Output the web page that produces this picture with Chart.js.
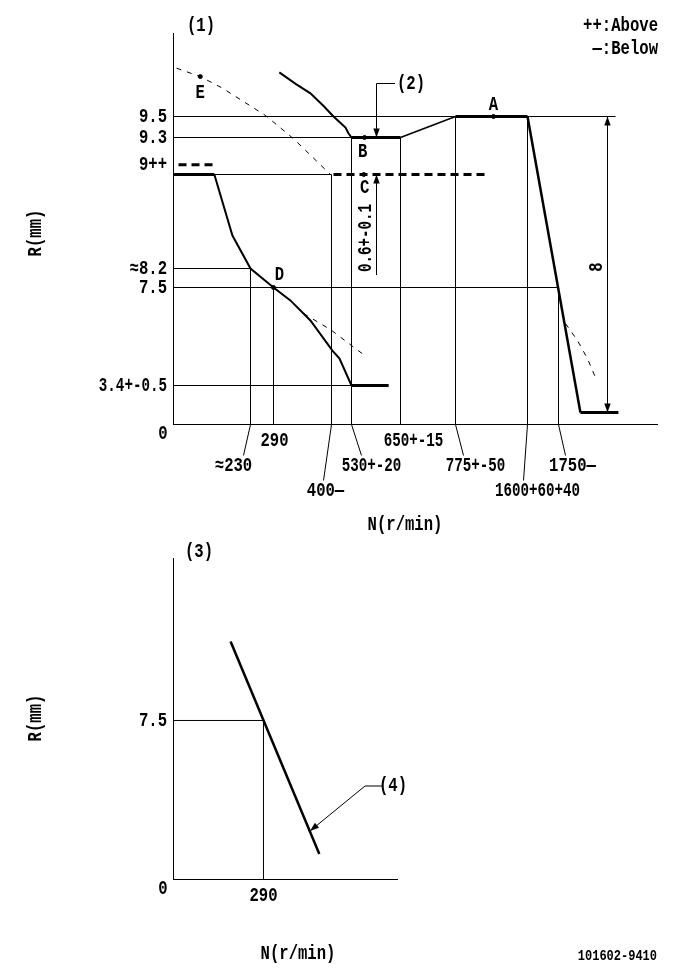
<!DOCTYPE html>
<html><head><meta charset="utf-8">
<style>html,body{margin:0;padding:0;background:#fff}canvas{display:block}</style>
<script src="https://cdn.jsdelivr.net/npm/chart.js@4"></script>
</head><body>
<canvas id="top" width="685" height="540"></canvas>
<canvas id="bottom" width="685" height="439"></canvas>
<script>
// --- Values: N in r/min, R in mm ---
const upperCurveN = [301, 332, 360, 385, 413, 491, 510, 530];
const upperCurveR = [9.92, 9.81, 9.72, 9.6, 9.5, 9.395, 9.34, 9.3];
const plateauBN = [530, 650];
const plateauBR = [9.3, 9.3];
const riseN = [650, 775];
const riseR = [9.3, 9.5];
const plateauAN = [775, 1600];
const plateauAR = [9.5, 9.5];
const dropN = [1600, 1856];
const dropR = [9.5, 1.05];
const tailN = [1856, 2040];
const tailR = [1.05, 1.05];
const startN = [0, 122];
const startR = [9, 9];
const lowerCurveN = [122, 176, 230, 290, 322, 360, 406, 452, 530];
const lowerCurveR = [9, 8.48, 8.2, 7.5, 6.96, 6.12, 4.86, 4.53, 3.4];
const idleN = [530, 621];
const idleR = [3.4, 3.4];
const aboveStartN = [15, 119];
const aboveStartR = [9.08, 9.08];
const lineCN = [413, 1119];
const lineCR = [9, 9];
const dashEN = [9, 80, 146, 269, 328, 398];
const dashER = [9.96, 9.88, 9.77, 9.51, 9.29, 9];
const dashLowN = [347, 398, 504, 562];
const dashLowR = [6.41, 5.74, 5.2, 4.66];
const dashHighN = [1784, 1842, 1890, 1929];
const dashHighR = [5.99, 5.28, 4.53, 3.73];
const markerN = [1210, 562, 560, 290, 80];
const markerR = [9.5, 9.3, 9, 7.5, 9.88];
const markerNames = ['A', 'B', 'C', 'D', 'E'];
const guideHR = [9.5, 9.3, 9, 8.2, 7.5, 3.4];
const guideHN = [2026, 530, 400, 230, 1750, 530];
const guideVN = [230, 290, 400, 530, 650, 775, 1600, 1750];
const guideVR = [8.2, 7.5, 9, 9.3, 9.3, 9.5, 9.5, 7.5];
const yTickValues = [3.4, 7.5, 8.2, 9.08, 9.3, 9.5];
const yTickLabels = ['3.4+-0.5', '7.5', '≈8.2', '9++', '9.3', '9.5'];
const xTickValues = [230, 290, 400, 530, 650, 775, 1600, 1750];
const xTickLabels = ['≈230', '290', '400—', '530+-20', '650+-15', '775+-50', '1600+60+40', '1750—'];
const auxN = [184, 470];
const auxR = [11.23, 1.2];
const auxGuideN = [290];
const auxGuideR = [7.5];

// --- The drawing's axes are not to scale: each axis is piecewise linear through its labelled values ---
const AXIS = {
  topX: { v: [0, 230, 290, 400, 530, 650, 775, 1600, 1750, 2229], d: [0, 77, 100, 158, 178, 227, 282, 354, 385, 484] },
  topY: { v: [0, 3.4, 7.5, 8.2, 9, 9.3, 9.5, 10.29], d: [0, 39, 137, 156, 250, 287, 308, 391] },
  botX: { v: [0, 722], d: [0, 224] },
  botY: { v: [0, 15.14], d: [0, 321] }
};
class PiecewiseScale extends Chart.LinearScale {
  static id = 'piecewise';
  static defaults = Chart.LinearScale.defaults;
  getPixelForValue(value) {
    const k = AXIS[this.options.knots], n = k.v.length;
    let i = 0;
    while (i < n - 2 && value > k.v[i + 1]) i++;
    const d = k.d[i] + (value - k.v[i]) * (k.d[i + 1] - k.d[i]) / (k.v[i + 1] - k.v[i]);
    return this.getPixelForDecimal(d / k.d[n - 1]) + 0.5;
  }
}
Chart.register(PiecewiseScale);

const FONT = '"Liberation Mono","DejaVu Sans Mono"';
const zip = (xs, ys) => xs.map((x, i) => ({ x, y: ys[i] }));
const line = (xs, ys, w, dash) => ({
  data: zip(xs, ys), showLine: true, borderColor: '#000', borderWidth: w,
  borderDash: dash || [], pointRadius: 0, tension: 0, fill: false
});
const THIN = 1, MID = 2, THICK = 3, DASH_THIN = [5, 6], DASH_THICK = [8, 5];

function text(ctx, s, x, y, opt) {
  opt = opt || {};
  ctx.save();
  ctx.fillStyle = '#000';
  ctx.font = 'bold ' + (opt.size || 20) + 'px ' + FONT;
  ctx.textAlign = opt.align || 'center';
  ctx.textBaseline = 'middle';
  ctx.translate(x, y);
  if (opt.rot) ctx.rotate(-Math.PI / 2);
  ctx.scale(opt.sx || (s.includes('+-') || s.length > 8 ? 0.71 : 0.78), 1);
  ctx.fillText(s, 0, 0);
  ctx.restore();
}
function stroke(ctx, pts, w) {
  ctx.save();
  ctx.strokeStyle = '#000';
  ctx.lineWidth = w || 1;
  ctx.beginPath();
  pts.forEach((p, i) => i ? ctx.lineTo(p[0], p[1]) : ctx.moveTo(p[0], p[1]));
  ctx.stroke();
  ctx.restore();
}
function arrow(ctx, x, y, ang) {
  const L = 9, W = 3.2, c = Math.cos(ang), s = Math.sin(ang);
  ctx.save();
  ctx.fillStyle = '#000';
  ctx.beginPath();
  ctx.moveTo(x, y);
  ctx.lineTo(x - L * c - W * s, y - L * s + W * c);
  ctx.lineTo(x - L * c + W * s, y - L * s - W * c);
  ctx.closePath();
  ctx.fill();
  ctx.restore();
}
function yTicks(ctx, scale) {
  scale.ticks.forEach(t => text(ctx, t.label, 167, scale.getPixelForValue(t.value), { align: 'right' }));
}

// Leader offsets for the x-axis labels: [end dx, end dy, text dx, text y below axis]
const xLabelPlace = [
  [-7, 31, -17, 41], [0, 0, 1, 16], [-8, 56, -6, 66], [10, 31, 20, 41],
  [0, 0, 13, 16], [8, 31, 20, 41], [-4, 56, 10, 66], [7, 31, 14, 41]
];

const topNotes = {
  id: 'topNotes',
  afterDraw(chart) {
    const c = chart.ctx, X = chart.scales.x, Y = chart.scales.y, base = Y.getPixelForValue(0);
    yTicks(c, Y);
    xTickValues.forEach((v, i) => {
      const px = X.getPixelForValue(v), p = xLabelPlace[i];
      if (p[1]) stroke(c, [[px, base], [px + p[0], base + p[1]]]);
      text(c, xTickLabels[i], px + p[2], base + p[3]);
    });
    text(c, '0', 163, 434);
    text(c, 'R(mm)', 36, 233, { rot: true });
    text(c, 'N(r/min)', 405, 525);
    text(c, '(1)', 201, 26);
    text(c, '++:Above', 658, 26, { align: 'right' });
    text(c, '—:Below', 658, 49, { align: 'right' });
    markerNames.forEach((m, i) => {
      const off = [[0, -12], [-2, 14], [1, 13], [6, -13], [0, 16]][i];
      text(c, m, X.getPixelForValue(markerN[i]) + off[0], Y.getPixelForValue(markerR[i]) + off[1]);
    });
    // (2) clearance dimension between curves B and C
    const ax = 376.5, y93 = Y.getPixelForValue(9.3), y90 = Y.getPixelForValue(9);
    stroke(c, [[395, 83.5], [ax, 83.5], [ax, y93]]);
    arrow(c, ax, y93, Math.PI / 2);
    stroke(c, [[ax, y90], [ax, 275]]);
    arrow(c, ax, y90, -Math.PI / 2);
    text(c, '(2)', 411, 84);
    text(c, '0.6+-0.1', 366, 238, { rot: true });
    // overall travel dimension
    const dx = 607.5, yA = Y.getPixelForValue(9.5), yT = Y.getPixelForValue(1.05);
    stroke(c, [[dx, yA], [dx, yT]]);
    arrow(c, dx, yA, -Math.PI / 2);
    arrow(c, dx, yT, Math.PI / 2);
    text(c, '8', 597, 267, { rot: true });
  }
};

const bottomNotes = {
  id: 'bottomNotes',
  afterDraw(chart) {
    const c = chart.ctx, X = chart.scales.x, Y = chart.scales.y, base = Y.getPixelForValue(0);
    yTicks(c, Y);
    text(c, '0', 163, base + 9);
    text(c, String(auxGuideN[0]), X.getPixelForValue(auxGuideN[0]), base + 16);
    text(c, 'R(mm)', 36, 178, { rot: true });
    text(c, 'N(r/min)', 298, 414);
    text(c, '(3)', 199, 12);
    text(c, '101602-9410', 657, 416, { size: 15, sx: 0.8, align: 'right' });
    const tx = 310, ty = 291, kx = 365, ky = 246;
    stroke(c, [[382, ky], [kx, ky], [tx, ty]]);
    arrow(c, tx, ty, Math.atan2(ty - ky, tx - kx));
    text(c, '(4)', 393, 246);
  }
};

const baseScale = (knots, max) => ({ type: 'piecewise', knots, min: 0, max, grid: { display: false }, border: { color: '#000', width: 1 } });

new Chart(document.getElementById('top'), {
  type: 'scatter',
  data: {
    datasets: [
      ...guideHR.map((r, i) => line([0, guideHN[i]], [r, r], THIN)),
      ...guideVN.map((n, i) => line([n, n], [0, guideVR[i]], THIN)),
      line(upperCurveN, upperCurveR, MID),
      line(plateauBN, plateauBR, THICK),
      line(riseN, riseR, MID - 0.5),
      line(plateauAN, plateauAR, THICK),
      line(dropN, dropR, MID + 0.5),
      line(tailN, tailR, THICK),
      line(startN, startR, THICK),
      line(lowerCurveN, lowerCurveR, MID),
      line(idleN, idleR, THICK),
      line(aboveStartN, aboveStartR, THICK, DASH_THICK),
      line(lineCN, lineCR, THICK, DASH_THICK),
      line(dashEN, dashER, THIN, DASH_THIN),
      line(dashLowN, dashLowR, THIN, DASH_THIN),
      line(dashHighN, dashHighR, THIN, DASH_THIN),
      { data: zip(markerN, markerR), showLine: false, pointRadius: 2, backgroundColor: '#000', borderColor: '#000' }
    ]
  },
  options: {
    responsive: false, animation: false, devicePixelRatio: 1,
    layout: { padding: { left: 173, right: 28, top: 33, bottom: 116 } },
    plugins: { legend: { display: false }, tooltip: { enabled: false } },
    scales: {
      x: { ...baseScale('topX', 2229), ticks: { display: false }, afterFit: s => { s.height = 0; } },
      y: {
        ...baseScale('topY', 10.29),
        afterBuildTicks: s => { s.ticks = yTickValues.map(value => ({ value })); },
        afterFit: s => { s.width = 0; },
        ticks: { display: false, autoSkip: false, callback: (v, i) => yTickLabels[i] }
      }
    }
  },
  plugins: [topNotes]
});

new Chart(document.getElementById('bottom'), {
  type: 'scatter',
  data: {
    datasets: [
      line([0, auxGuideN[0]], [auxGuideR[0], auxGuideR[0]], THIN),
      line([auxGuideN[0], auxGuideN[0]], [0, auxGuideR[0]], THIN),
      line(auxN, auxR, MID + 0.5)
    ]
  },
  options: {
    responsive: false, animation: false, devicePixelRatio: 1,
    layout: { padding: { left: 173, right: 288, top: 18, bottom: 100 } },
    plugins: { legend: { display: false }, tooltip: { enabled: false } },
    scales: {
      x: { ...baseScale('botX', 722), ticks: { display: false }, afterFit: s => { s.height = 0; } },
      y: {
        ...baseScale('botY', 15.14),
        afterBuildTicks: s => { s.ticks = auxGuideR.map(value => ({ value })); },
        afterFit: s => { s.width = 0; },
        ticks: { display: false, autoSkip: false, callback: v => v.toFixed(1) }
      }
    }
  },
  plugins: [bottomNotes]
});
</script>
</body></html>
